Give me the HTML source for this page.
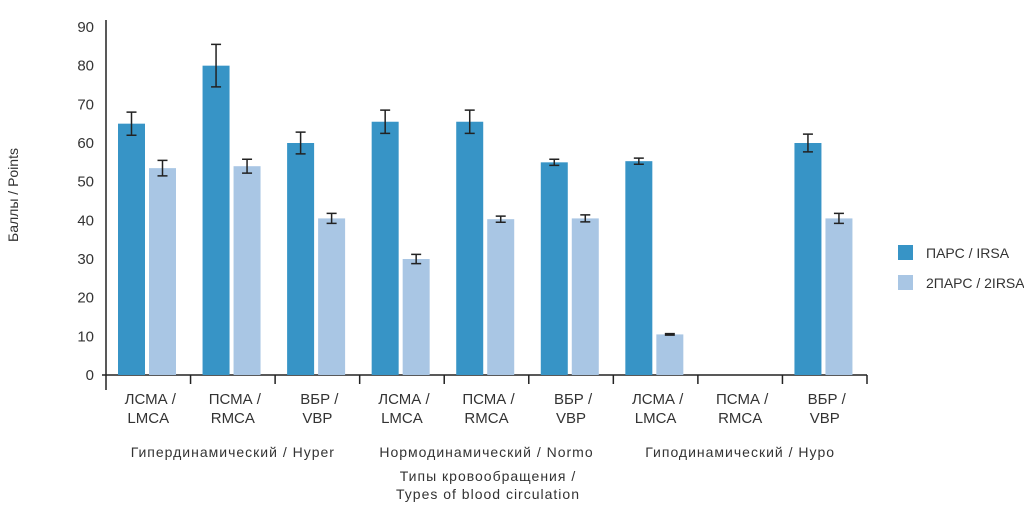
<!DOCTYPE html>
<html><head><meta charset="utf-8"><style>
body{margin:0;background:#fff;}
svg text{font-family:"Liberation Sans","Noto Sans CJK SC",sans-serif;fill:#333;font-size:14px;}
svg text.wide{letter-spacing:1px;}
svg text.tick{font-size:15px;}
</style></head><body>
<svg width="1024" height="506" id="chart">
<g id="plot"></g>
</svg>
<script>
const categories=["ЛСМА /|LMCA","ПСМА /|RMCA","ВБР /|VBP","ЛСМА /|LMCA","ПСМА /|RMCA","ВБР /|VBP","ЛСМА /|LMCA","ПСМА /|RMCA","ВБР /|VBP"];
const irsa=[65,80,60,65.5,65.5,55,55.3,0,60];
const irsaErr=[3,5.5,2.8,3,3,0.8,0.8,0,2.3];
const irsa2=[53.5,54,40.5,30,40.3,40.5,10.5,0,40.5];
const irsa2Err=[2,1.8,1.3,1.2,0.8,0.9,0.2,0,1.3];
const yTicks=[0,10,20,30,40,50,60,70,80,90];
const groups=["Гипердинамический / Hyper","Нормодинамический / Normo","Гиподинамический / Hypo"];
const NS="http://www.w3.org/2000/svg";
const g=document.getElementById('plot');
const x0=106,x1=867,y0=375,yTop=27;
const y=v=>y0-(v/90)*(y0-yTop);
const bw=(x1-x0)/categories.length;
function mk(t,a,p){const e=document.createElementNS(NS,t);for(const k in a)e.setAttribute(k,a[k]);(p||g).appendChild(e);return e;}
let e=mk('line',{x1:x0,y1:20,x2:x0,y2:y0+15,stroke:'#222','stroke-width':1.5});


e=mk('line',{x1:x0-4,y1:y0,x2:x1,y2:y0,stroke:'#222','stroke-width':1.5});


yTicks.forEach(t=>{e=mk('text',{x:x0-12,y:y(t)+5,'text-anchor':'end',class:'tick'});e.textContent=t;

});
for(let i=1;i<=categories.length;i++){e=mk('line',{x1:x0+i*bw,y1:y0,x2:x0+i*bw,y2:y0+9,stroke:'#222','stroke-width':1.5});

}
function bar(v,err,xs,col,name){
 if(v<=0)return;
 e=mk('rect',{x:xs,y:y(v),width:27,height:y0-y(v),fill:col});
 
 
 const cx=xs+13.5;
 e=mk('path',{d:`M${cx-5},${y(v+err)}H${cx+5}M${cx},${y(v+err)}V${y(v-err)}M${cx-5},${y(v-err)}H${cx+5}`,stroke:'#222','stroke-width':1.5,fill:'none'});
 
 
}
categories.forEach((c,i)=>{
 const gx=x0+i*bw;
 bar(irsa[i],irsaErr[i],gx+12,'#3794c6','bar-irsa');
 bar(irsa2[i],irsa2Err[i],gx+43,'#a9c6e4','bar-2irsa');
 const [a,b]=c.split('|');
 e=mk('text',{x:gx+bw/2+2,y:404,'text-anchor':'middle',class:'tick'});e.textContent=a;
 
 
 e=mk('text',{x:gx+bw/2,y:423,'text-anchor':'middle',class:'tick'});e.textContent=b;
 
 
});
groups.forEach((s,i)=>{e=mk('text',{x:x0+(i*3+1.5)*bw,y:457,'text-anchor':'middle',class:'wide'});e.textContent=s;

});
e=mk('text',{x:488,y:481,'text-anchor':'middle',class:'wide'});e.textContent='Типы кровообращения /';


e=mk('text',{x:488,y:499,'text-anchor':'middle',class:'wide'});e.textContent='Types of blood circulation';


e=mk('text',{x:18,y:195,'text-anchor':'middle',transform:'rotate(-90 18 195)'});e.textContent='Баллы / Points';


[['#3794c6','ПАРС / IRSA',245],['#a9c6e4','2ПАРС / 2IRSA',275]].forEach(([c,t,yy])=>{
 e=mk('rect',{x:898,y:yy,width:15,height:15,fill:c});
 
 
 e=mk('text',{x:926,y:yy+13});e.textContent=t;
 
 
});
</script>
</body></html>
